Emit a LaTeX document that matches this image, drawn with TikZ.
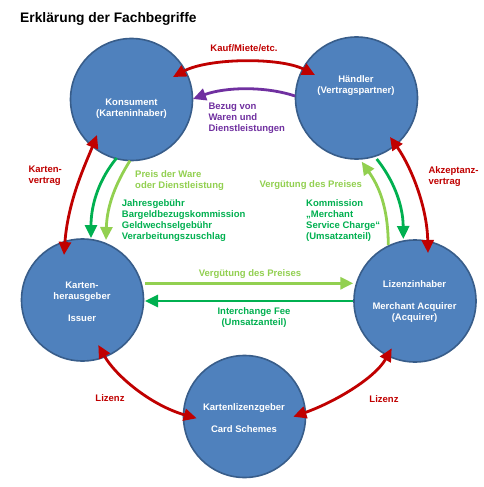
\documentclass[tikz,border=0pt]{standalone}
\usepackage{fontspec}
\setmainfont{Liberation Sans}
\usetikzlibrary{arrows.meta,calc}
\definecolor{cfill}{HTML}{4F81BD}
\definecolor{cline}{HTML}{385D8A}
\definecolor{cred}{HTML}{C00000}
\definecolor{cgreen}{HTML}{00B050}
\definecolor{clight}{HTML}{92D050}
\definecolor{cpurple}{HTML}{7030A0}
\begin{document}
\begin{tikzpicture}[x=1pt,y=-1pt,
  party/.style={circle,fill=cfill,draw=cline,line width=1.6pt,minimum size=122pt,inner sep=0pt},
  intext/.style={text=white,font=\bfseries\fontsize{9.5}{11}\selectfont,align=center,inner sep=0pt},
  lbl/.style={font=\bfseries\fontsize{9.5}{11}\selectfont,align=left,inner sep=0pt},
  flow/.style={line width=2.8pt},
  >={Triangle[length=13pt,width=12pt]}
]
\useasboundingbox[fill=white] (0,0) rectangle (483,487);
\node[anchor=base west,inner sep=0pt,font=\bfseries\fontsize{13.8}{16}\selectfont] (title) at (20,22.5) {Erklärung der Fachbegriffe};

% parties
\node[party] (kons) at (131.5,99.5) {};
\node[party] (haend) at (356.5,98) {};
\node[party] (iss) at (82.5,300) {};
\node[party] (acq) at (415,301) {};
\node[party] (sch) at (244.5,416.5) {};

\node[intext] (tkons) at ([yshift=-9.5]kons.center) {Konsument\\(Karteninhaber)};
\node[intext] (thaend) at ([shift={(-0.5,-12)}]haend.center) {Händler\\(Vertragspartner)};
\node[intext] (tiss) at ([shift={(-0.5,1.5)}]iss.center) {Karten-\\herausgeber\\[11pt]Issuer};
\node[intext] (tacq) at ([shift={(-0.5,0.5)}]acq.center) {Lizenzinhaber\\[11pt]Merchant Acquirer\\(Acquirer)};
\node[intext] (tsch) at ([shift={(-0.5,2)}]sch.center) {Kartenlizenzgeber\\[11pt]Card Schemes};

% connectors
\draw[flow,cred,<->] ([shift={(41.5,-22.5)}]kons.center) .. controls (208,58) and (280,57) .. ([shift={(-41.5,-23)}]haend.center);
\draw[flow,cpurple,->] ([shift={(-61.5,-2)}]haend.center) .. controls (265,86) and (225,87) .. ([shift={(61.5,-0.5)}]kons.center);
\draw[flow,cred,<->] ([shift={(-34.5,35.5)}]kons.center) .. controls (86,163) and (68,200) .. ([shift={(-18.5,-45)}]iss.center);
\draw[flow,cgreen,->] ([shift={(-14.8,58.5)}]kons.center) .. controls (100,178) and (91,203) .. ([shift={(8.5,-62)}]iss.center);
\draw[flow,clight,->] ([shift={(-1.5,61.2)}]kons.center) .. controls (116,183) and (107,205) .. ([shift={(23.5,-60)}]iss.center);
\draw[flow,cred,<->] ([shift={(33.5,39)}]haend.center) .. controls (410,165) and (427,205) .. ([shift={(13,-48)}]acq.center);
\draw[flow,cgreen,->] ([shift={(20.2,61)}]haend.center) .. controls (392,178) and (403,203) .. ([shift={(-11.7,-62)}]acq.center);
\draw[flow,clight,->] ([shift={(-26.7,-56)}]acq.center) .. controls (388,205) and (378,185) .. ([shift={(5.2,63.7)}]haend.center);
\draw[flow,clight,->] ([shift={(62.5,-16.7)}]iss.center) -- ([shift={(-61.7,-17.7)}]acq.center);
\draw[flow,cgreen,->] ([shift={(-61.7,0)}]acq.center) -- ([shift={(62.5,1)}]iss.center);
\draw[flow,cred,<->] ([shift={(15.8,45)}]iss.center) .. controls (115,375) and (150,405) .. ([shift={(-47.8,1.8)}]sch.center);
\draw[flow,cred,<->] ([shift={(48.8,0.2)}]sch.center) .. controls (335,402) and (375,378) .. ([shift={(-23.3,47.3)}]acq.center);

% labels
\node[lbl,text=cred,anchor=base] (lkauf) at (244,51.2) {Kauf/Miete/etc.};
\node[lbl,text=cpurple,anchor=west] (lbez) at (208.3,118.5) {Bezug von\\Waren und\\Dienstleistungen};
\node[lbl,text=cred,anchor=west] (lkv) at (28.3,176) {Karten-\\vertrag};
\node[lbl,text=clight,anchor=west] (lpreis) at (135,180.7) {Preis der Ware\\oder Dienstleistung};
\node[lbl,text=cgreen,anchor=west] (ljahr) at (121.7,220.8) {Jahresgebühr\\Bargeldbezugskommission\\Geldwechselgebühr\\Verarbeitungszuschlag};
\node[lbl,text=clight,anchor=base] (lverg1) at (310.8,187.7) {Vergütung des Preises};
\node[lbl,text=cgreen,anchor=west] (lkom) at (306,220.8) {Kommission\\„Merchant\\Service Charge“\\(Umsatzanteil)};
\node[lbl,text=cred,anchor=west] (lakz) at (428.3,176.3) {Akzeptanz-\\vertrag};
\node[lbl,text=clight,anchor=base] (lverg2) at (250,276.1) {Vergütung des Preises};
\node[lbl,text=cgreen,align=center] (linter) at (254,317.7) {Interchange Fee\\(Umsatzanteil)};
\node[lbl,text=cred,anchor=base] (lliz1) at (110,401.4) {Lizenz};
\node[lbl,text=cred,anchor=base] (lliz2) at (384,402.4) {Lizenz};
\end{tikzpicture}
\end{document}
